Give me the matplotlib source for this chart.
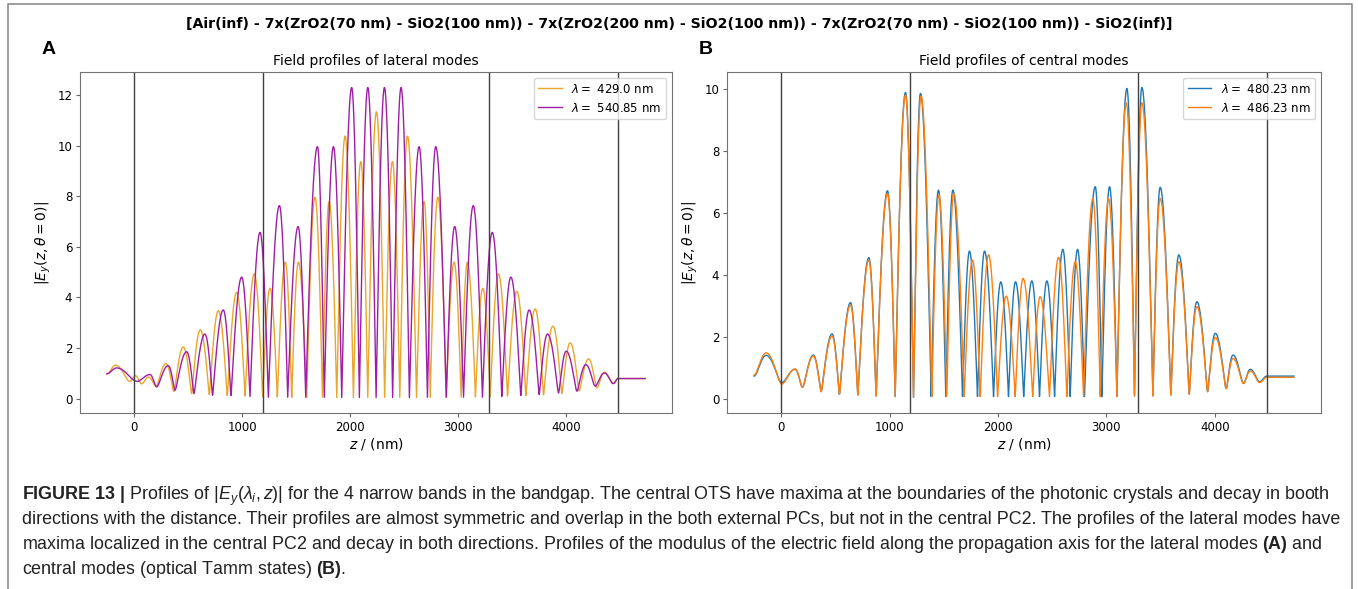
import numpy as np
import matplotlib
matplotlib.use("Agg")
import matplotlib.pyplot as plt
from matplotlib.lines import Line2D

W, H = 1358, 589

# caption math in the caption font, axes math stays DejaVu
plt.rcParams['mathtext.rm'] = 'Liberation Sans'
plt.rcParams['mathtext.it'] = 'Liberation Sans:italic'
plt.rcParams['mathtext.bf'] = 'Liberation Sans:bold'

stack_title = ("[Air(inf) - 7x(ZrO2(70 nm) - SiO2(100 nm)) - 7x(ZrO2(200 nm) - SiO2(100 nm))"
               " - 7x(ZrO2(70 nm) - SiO2(100 nm)) - SiO2(inf)]")
interfaces = [0, 1190, 3290, 4480]

# extrema of |Ey| (z in nm), alternating min / max
# panel A, lateral modes
lat_429_z = [-250, -170, -37, 15, 71, 135, 205, 296, 370, 457, 534, 614, 698, 781, 864, 951,
             1028, 1114, 1191, 1259, 1327, 1401, 1460, 1522, 1599, 1676, 1745, 1806, 1877,
             1954, 2031, 2099, 2164, 2244, 2320, 2392, 2460, 2531, 2615, 2685, 2742, 2812,
             2890, 2963, 3028, 3086, 3160, 3228, 3297, 3373, 3457, 3543, 3627, 3713, 3790,
             3877, 3960, 4037, 4120, 4207, 4284, 4355, 4432, 4480, 4730]
lat_429_v = [0.97, 1.32, 0.68, 0.9, 0.58, 0.85, 0.48, 1.38, 0.28, 2.04, 0.2, 2.72, 0.15, 3.47,
             0.12, 4.2, 0.1, 4.93, 0.08, 4.36, 0.06, 5.39, 0.05, 5.39, 0.05, 7.96, 0.05, 7.79,
             0.04, 10.38, 0.04, 9.37, 0.04, 11.34, 0.04, 9.37, 0.04, 10.38, 0.04, 7.79, 0.05,
             7.96, 0.05, 5.39, 0.05, 5.39, 0.06, 4.36, 0.08, 4.93, 0.1, 4.24, 0.12, 3.54, 0.15,
             2.86, 0.2, 2.2, 0.3, 1.57, 0.42, 1.04, 0.59, 0.79, 0.79]

lat_540_z = [-250, -160, 30, 148, 210, 318, 380, 488, 556, 657, 728, 827, 898, 997, 1074, 1167,
             1244, 1346, 1423, 1519, 1590, 1698, 1762, 1846, 1923, 2015, 2086, 2164, 2241,
             2318, 2394, 2472, 2549, 2639, 2716, 2793, 2890, 2968, 3050, 3140, 3225, 3316,
             3404, 3488, 3580, 3657, 3750, 3827, 3929, 4000, 4099, 4182, 4268, 4352, 4438,
             4480, 4730]
lat_540_v = [0.98, 1.21, 0.68, 0.95, 0.46, 1.3, 0.33, 1.85, 0.2, 2.55, 0.13, 3.5, 0.12, 4.8,
             0.08, 6.57, 0.05, 7.63, 0.05, 6.8, 0.05, 9.96, 0.05, 9.96, 0.04, 12.3, 0.04, 12.3,
             0.04, 12.3, 0.04, 12.3, 0.04, 9.96, 0.05, 9.96, 0.05, 6.8, 0.05, 7.63, 0.05, 6.57,
             0.08, 4.8, 0.12, 3.5, 0.16, 2.55, 0.22, 1.87, 0.29, 1.34, 0.49, 1.01, 0.59, 0.79,
             0.79]

# panel B, central modes (optical Tamm states)
cen_480_z = [-250, -138, 6, 129, 197, 298, 369, 470, 538, 640, 707, 809, 876, 981, 1052, 1147,
             1221, 1285, 1384, 1451, 1519, 1584, 1673, 1737, 1811, 1876, 1959, 2026, 2097,
             2162, 2237, 2312, 2383, 2451, 2522, 2598, 2666, 2734, 2798, 2897, 2958, 3029,
             3097, 3189, 3259, 3327, 3429, 3496, 3594, 3668, 3764, 3834, 3933, 4004, 4105,
             4167, 4265, 4327, 4413, 4480, 4730]
cen_480_v = [0.74, 1.41, 0.53, 0.96, 0.38, 1.42, 0.24, 2.1, 0.15, 3.11, 0.13, 4.56, 0.1, 6.72,
             0.08, 9.89, 0.05, 9.86, 0.08, 6.74, 0.08, 6.74, 0.08, 4.77, 0.08, 4.77, 0.08, 3.78,
             0.08, 3.78, 0.08, 3.81, 0.08, 3.81, 0.08, 4.83, 0.08, 4.83, 0.08, 6.85, 0.08, 6.85,
             0.08, 10.02, 0.1, 10.05, 0.1, 6.83, 0.13, 4.65, 0.16, 3.14, 0.24, 2.12, 0.34, 1.42,
             0.51, 0.96, 0.56, 0.74, 0.74]

cen_486_z = [-250, -138, 6, 129, 197, 298, 369, 470, 538, 640, 707, 809, 876, 981, 1052, 1147,
             1221, 1290, 1390, 1455, 1528, 1592, 1688, 1765, 1836, 1913, 1996, 2076, 2159,
             2232, 2320, 2389, 2475, 2559, 2635, 2712, 2789, 2875, 2943, 3020, 3097, 3183,
             3259, 3327, 3429, 3496, 3594, 3668, 3764, 3834, 3933, 4004, 4105, 4167, 4265,
             4327, 4413, 4480, 4730]
cen_486_v = [0.77, 1.49, 0.48, 0.97, 0.38, 1.39, 0.24, 2.03, 0.15, 3.03, 0.13, 4.48, 0.1, 6.63,
             0.08, 9.81, 0.05, 9.77, 0.08, 6.58, 0.08, 6.63, 0.08, 4.48, 0.08, 4.65, 0.08, 3.32,
             0.08, 3.89, 0.08, 3.3, 0.08, 4.57, 0.08, 4.43, 0.08, 6.47, 0.08, 6.47, 0.08, 9.56,
             0.1, 9.56, 0.1, 6.47, 0.13, 4.43, 0.16, 2.98, 0.24, 1.99, 0.34, 1.31, 0.5, 0.91,
             0.53, 0.7, 0.7]

caption = [
    r"$\mathbf{FIGURE\ 13\ |}$ Profiles of $|E_y(\lambda_i, z)|$ for the 4 narrow bands in the bandgap. "
    r"The central OTS have maxima at the boundaries of the photonic crystals and decay in booth",
    "directions with the distance. Their profiles are almost symmetric and overlap in the both "
    "external PCs, but not in the central PC2. The profiles of the lateral modes have",
    r"maxima localized in the central PC2 and decay in both directions. Profiles of the modulus "
    r"of the electric field along the propagation axis for the lateral modes $\mathbf{(A)}$ and",
    r"central modes (optical Tamm states) $\mathbf{(B)}$.",
]


def profile(zk, vk, n=30):
    # standing-wave shape between neighbouring extrema
    z_out, v_out = [zk[0]], [vk[0]]
    for z0, z1, v0, v1 in zip(zk[:-1], zk[1:], vk[:-1], vk[1:]):
        t = np.linspace(0, 1, n)[1:]
        if v0 <= v1:
            phi = t * np.pi / 2
            lo, hi = v0, v1
        else:
            phi = (1 - t) * np.pi / 2
            lo, hi = v1, v0
        z_out.extend(z0 + (z1 - z0) * t)
        v_out.extend(np.sqrt((lo * np.cos(phi)) ** 2 + (hi * np.sin(phi)) ** 2))
    return np.array(z_out), np.array(v_out)


fig = plt.figure(figsize=(W / 100, H / 100), dpi=100)
axA = fig.add_axes([80 / W, 1 - 413 / H, 592 / W, 341 / H])
axB = fig.add_axes([727 / W, 1 - 413 / H, 594 / W, 341 / H])

panels = [
    (axA, "Field profiles of lateral modes",
     [(lat_429_z, lat_429_v, "429.0", "#eaa62a"), (lat_540_z, lat_540_v, "540.85", "#9e1fa6")]),
    (axB, "Field profiles of central modes",
     [(cen_480_z, cen_480_v, "480.23", "#1f77b4"), (cen_486_z, cen_486_v, "486.23", "#ff7f0e")]),
]

for ax, title, series in panels:
    for zk, vk, lam, col in series:
        z, v = profile(zk, vk)
        ax.plot(z, v, color=col, lw=1.0, label=r"$\lambda = $ " + lam + " nm")
    for zi in interfaces:
        ax.axvline(zi, color="0.25", lw=1.0)
    ax.set_title(title, fontsize=10, pad=5)
    ax.set_xlabel(r"$z$ / (nm)", fontsize=10, labelpad=2)
    ax.set_ylabel(r"$|E_y(z, \theta = 0)|$", fontsize=10, labelpad=3)
    ax.tick_params(labelsize=8.5, color="0.4", length=3, pad=2.5)
    for sp in ax.spines.values():
        sp.set_color("0.45")
    ax.legend(loc="upper right", fontsize=8.5)

fig.text(49 / W, 1 - 50 / H, "A", fontsize=14, fontweight="bold", family="Liberation Sans",
         ha="center", va="center")
fig.text(706 / W, 1 - 50 / H, "B", fontsize=14, fontweight="bold", family="Liberation Sans",
         ha="center", va="center")

sup = fig.text(0.5, 1 - 23.5 / H, stack_title, fontsize=10, fontweight="bold",
               ha="center", va="center")

cap_texts = []
for i, line in enumerate(caption):
    t = fig.text(22 / W, 1 - (500 + 24.5 * i) / H, line, fontsize=11.5, family="Liberation Sans",
                 math_fontfamily="custom", ha="left", va="baseline", color="#222222")
    cap_texts.append(t)

# frame round figure and caption
fig.add_artist(Line2D([8 / W, 8 / W, 1352 / W, 1352 / W], [0, 1 - 4 / H, 1 - 4 / H, 0],
                      transform=fig.transFigure, color="0.55", lw=1.2))

# fit widths of the long text lines
fig.canvas.draw()
r = fig.canvas.get_renderer()
w = sup.get_window_extent(r).width
sup.set_fontsize(sup.get_fontsize() * 991 / w)
w = cap_texts[0].get_window_extent(r).width
fs = cap_texts[0].get_fontsize() * 1314 / w
for t in cap_texts:
    t.set_fontsize(fs)
print("suptitle fs", sup.get_fontsize(), "caption fs", fs)

fig.savefig("out.png", dpi=100)
